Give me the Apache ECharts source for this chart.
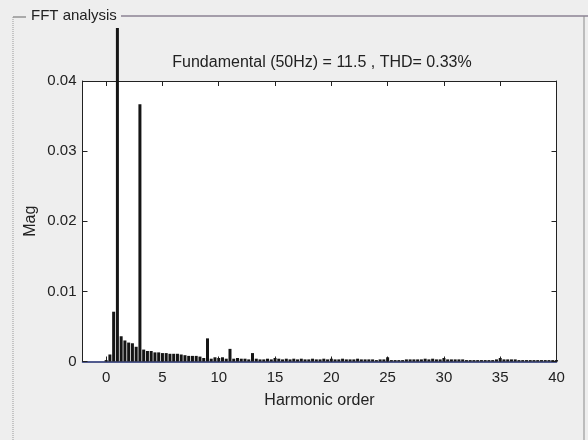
<!DOCTYPE html>
<html>
<head>
<meta charset="utf-8">
<script src="https://cdn.jsdelivr.net/npm/echarts@6/dist/echarts.min.js"></script>
<style>
html,body{margin:0;padding:0;background:#eeeeee;}
#chart{width:588px;height:440px;}
</style>
</head>
<body>
<div id="chart"></div>
<script>
// FFT bins: harmonic order resolution of 1/3 (window of 3 cycles at 50 Hz)
const binsPerHarmonic = 3;
// magnitude of each bin, bin k is at harmonic order k/3
const magnitudes = [
  0.0002, 0.0010, 0.0071, 11.5,   0.0036, 0.0030, 0.0027, 0.0026, 0.0021, 0.0367,
  0.0017, 0.0015, 0.0015, 0.0013, 0.0013, 0.0012, 0.0012, 0.0011, 0.0011, 0.0011,
  0.0010, 0.0009, 0.0008, 0.0008, 0.0008, 0.0007, 0.0005, 0.0033, 0.0004, 0.0006,
  0.0005, 0.0006, 0.0004, 0.0018, 0.0004, 0.0005, 0.0004, 0.0004, 0.0003, 0.0012,
  0.0004, 0.0003, 0.0003, 0.0004, 0.0003, 0.0005, 0.0004, 0.0003, 0.0004, 0.0003,
  0.0004, 0.0003, 0.0004, 0.0003, 0.0003, 0.0004, 0.0003, 0.0003, 0.0004, 0.0003,
  0.0004, 0.0003, 0.0003, 0.0004, 0.0003, 0.0003, 0.0003, 0.0004, 0.0003, 0.0003,
  0.0003, 0.0003, 0.0002, 0.0003, 0.0003, 0.0006, 0.0002, 0.0002, 0.0002, 0.0002,
  0.0003, 0.0003, 0.0003, 0.0003, 0.0003, 0.0004, 0.0003, 0.0004, 0.0003, 0.0003,
  0.0005, 0.0003, 0.0003, 0.0003, 0.0003, 0.0003, 0.0002, 0.0002, 0.0002, 0.0002,
  0.0002, 0.0002, 0.0002, 0.0002, 0.0003, 0.0005, 0.0003, 0.0003, 0.0003, 0.0003,
  0.0002, 0.0002, 0.0002, 0.0002, 0.0002, 0.0002, 0.0002, 0.0002, 0.0002, 0.0002,
  0.0002
];
const xTickValues = [0, 5, 10, 15, 20, 25, 30, 35, 40];
const yTickValues = [0, 0.01, 0.02, 0.03, 0.04];
const yTickLabels = ['0', '0.01', '0.02', '0.03', '0.04'];
const panelTitle = 'FFT analysis';
const plotTitle = 'Fundamental (50Hz) = 11.5 , THD= 0.33%';
const xName = 'Harmonic order';
const yName = 'Mag';

const FONT = 'Liberation Sans, Arial, sans-serif';
const seriesData = magnitudes.map((m, k) => [k / binsPerHarmonic, m]);

const chart = echarts.init(document.getElementById('chart'), null, {renderer: 'canvas'});
const axisCommon = {
  type: 'value',
  splitLine: {show: false},
  axisTick: {show: true, inside: true, length: 5, lineStyle: {color: '#222', width: 1}},
  axisLine: {show: true, onZero: false, lineStyle: {color: '#222', width: 1}}
};
chart.setOption({
  backgroundColor: '#eeeeee',
  animation: false,
  title: {
    text: plotTitle,
    left: 317, top: 50, textAlign: 'center',
    textStyle: {fontFamily: FONT, fontSize: 16, fontWeight: 'normal', color: '#222'}
  },
  grid: {left: 82.5, right: 31.5, top: 81, bottom: 78.5, show: true, backgroundColor: '#ffffff', borderWidth: 0},
  xAxis: [
    Object.assign({}, axisCommon, {
      position: 'bottom', min: -2.1, max: 40,
      name: xName, nameLocation: 'middle', nameGap: 31,
      nameTextStyle: {fontFamily: FONT, fontSize: 16, color: '#222'},
      axisLine: {show: true, onZero: false, lineStyle: {color: '#1c2a6e', width: 1.5}},
      axisTick: {show: true, inside: true, length: 5, customValues: xTickValues, lineStyle: {color: '#222'}},
      axisLabel: {show: true, customValues: xTickValues, margin: 9, fontFamily: FONT, fontSize: 15, color: '#222'}
    }),
    Object.assign({}, axisCommon, {
      position: 'top', min: -2.1, max: 40,
      axisTick: {show: true, inside: true, length: 5, customValues: xTickValues, lineStyle: {color: '#222'}},
      axisLabel: {show: false}
    })
  ],
  yAxis: [
    Object.assign({}, axisCommon, {
      position: 'left', min: 0, max: 0.04, interval: 0.01,
      name: yName, nameLocation: 'middle', nameGap: 44, nameRotate: 90, nameMoveOverlap: false,
      nameTextStyle: {fontFamily: FONT, fontSize: 16, color: '#222'},
      axisLabel: {show: true, margin: 6, fontFamily: FONT, fontSize: 15, color: '#222',
        formatter: v => yTickLabels[yTickValues.findIndex(t => Math.abs(t - v) < 1e-9)] ?? String(v)}
    }),
    Object.assign({}, axisCommon, {
      position: 'right', min: 0, max: 0.04, interval: 0.01,
      axisLabel: {show: false}
    })
  ],
  series: [{
    type: 'bar',
    xAxisIndex: 0, yAxisIndex: 0,
    data: seriesData,
    barWidth: 3,
    clip: false,
    itemStyle: {color: '#151515'},
    z: 2
  }],
  graphic: [
    // panel area above the axes (the fundamental bar disappears behind it)
    {type: 'rect', z: 100, shape: {x: 0, y: 0, width: 588, height: 28}, style: {fill: '#eeeeee'}},
    {type: 'line', z: 101, shape: {x1: 13, y1: 17, x2: 26, y2: 17}, style: {stroke: '#666', lineWidth: 1}},
    {type: 'line', z: 101, shape: {x1: 121, y1: 16, x2: 588, y2: 16}, style: {stroke: '#5a4d66', lineWidth: 1}},
    {type: 'line', z: 101, shape: {x1: 13, y1: 17, x2: 13, y2: 440}, style: {stroke: '#9a9a9a', lineWidth: 1, lineDash: [1, 1]}},
    {type: 'line', z: 101, shape: {x1: 584, y1: 16, x2: 584, y2: 440}, style: {stroke: '#8a8a8a', lineWidth: 1}},
    {type: 'text', z: 102, left: 31, top: 8,
      style: {text: panelTitle, font: '15px ' + FONT, fill: '#222'}}
  ]
});
</script>
</body>
</html>
